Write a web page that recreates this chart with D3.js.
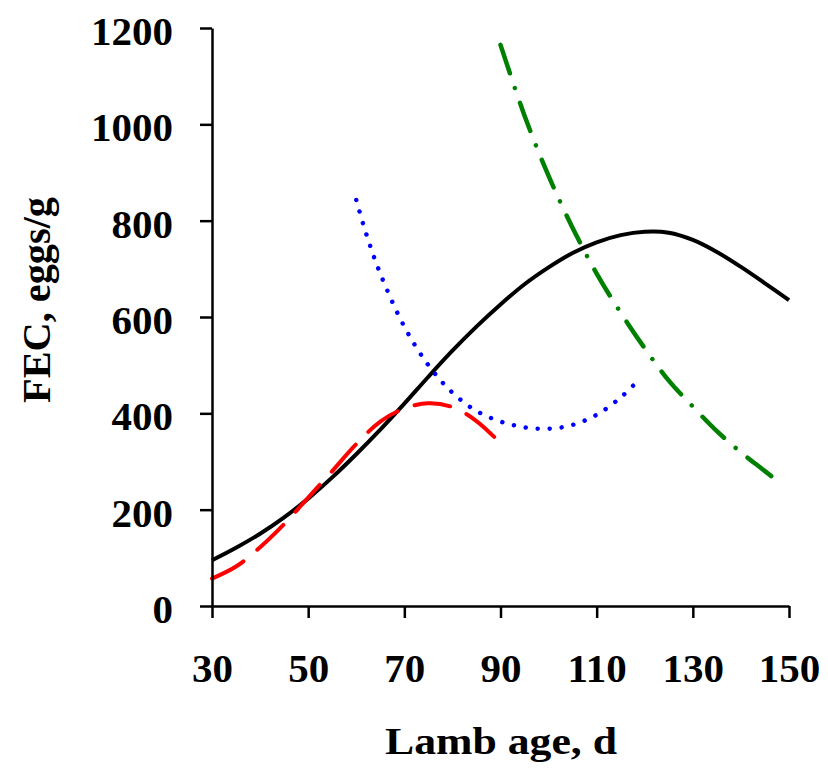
<!DOCTYPE html>
<html>
<head>
<meta charset="utf-8">
<script src="https://cdn.jsdelivr.net/npm/d3@7"></script>
<style>
  html, body { margin: 0; padding: 0; background: #fff; }
  svg { display: block; }
  text { font-family: "Liberation Serif", "Times New Roman", serif; font-weight: bold; fill: #000; }
</style>
</head>
<body>
<svg id="chart" width="828" height="770"></svg>
<script>
// ---- data ----
const xTicks = [30, 50, 70, 90, 110, 130, 150];
const yTicks = [0, 200, 400, 600, 800, 1000, 1200];

const blackAge = [30, 35, 40, 45, 50, 55, 60, 65, 70, 75, 80, 85, 90, 95, 100, 105, 110, 115, 120, 125, 130, 135, 140, 145, 150];
const blackFEC = [95, 121, 150, 184, 223, 267, 315, 366, 420, 476, 530, 580, 626, 668, 703, 733, 755, 770, 777, 775, 760, 735, 704, 670, 635];

const redAge = [30, 35, 40, 45, 50, 55, 60, 65, 70, 75, 80, 85, 90];
const redFEC = [57, 82, 122, 170, 225, 280, 336, 383, 410, 421, 413, 384, 338];

const blueAge = [60, 62, 65, 70, 75, 80, 85, 90, 95, 100, 105, 110, 115, 119];
const blueFEC = [843, 775, 690, 580, 500, 443, 405, 383, 371, 368, 376, 397, 433, 472];

const greenAge = [90, 95, 100, 105, 110, 115, 120, 125, 130, 135, 140, 145, 148];
const greenFEC = [1165, 1018, 893, 785, 690, 609, 535, 468, 414, 363, 319, 280, 256];

// ---- chart ----
const svg = d3.select("#chart");
const x = d3.scaleLinear().domain([30, 150]).range([212, 789]);
const y = d3.scaleLinear().domain([0, 1200]).range([606, 28]);

const line = d3.line().x(d => x(d[0])).y(d => y(d[1])).curve(d3.curveCatmullRom.alpha(0.5));
const zip = (a, b) => a.map((v, i) => [v, b[i]]);

// series
svg.append("path").datum(zip(blackAge, blackFEC)).attr("d", line)
  .attr("fill", "none").attr("stroke", "#000").attr("stroke-width", 4);
svg.append("path").datum(zip(redAge, redFEC)).attr("d", line)
  .attr("fill", "none").attr("stroke", "#ff0000").attr("stroke-width", 4)
  .attr("stroke-linecap", "round").attr("stroke-dasharray", "36,18");
svg.append("path").datum(zip(blueAge, blueFEC)).attr("d", line)
  .attr("fill", "none").attr("stroke", "#0000ff").attr("stroke-width", 4.5)
  .attr("stroke-linecap", "round").attr("stroke-dasharray", "0.01,12");
svg.append("path").datum(zip(greenAge, greenFEC)).attr("d", line)
  .attr("fill", "none").attr("stroke", "#008000").attr("stroke-width", 4.5)
  .attr("stroke-linecap", "round").attr("stroke-dasharray", "30,15.5,0.01,15.5");

// axes
const fmt = d3.format("d");
const xAxis = d3.axisBottom(x).tickValues(xTicks).tickFormat(fmt).tickSize(12).tickSizeOuter(0).tickPadding(35);
const yAxis = d3.axisLeft(y).tickValues(yTicks).tickFormat(fmt).tickSize(12).tickSizeOuter(0).tickPadding(27);

const gx = svg.append("g").attr("transform", "translate(0,606)").call(xAxis);
const gy = svg.append("g").attr("transform", "translate(212,0)").call(yAxis);

[gx, gy].forEach(g => {
  g.select(".domain").attr("stroke", "#000").attr("stroke-width", 2.5);
  g.selectAll(".tick line").attr("stroke", "#000").attr("stroke-width", 2.5);
  g.selectAll(".tick text").attr("font-family", "'Liberation Serif', 'Times New Roman', serif")
    .attr("font-weight", "bold").attr("font-size", 41).attr("fill", "#000");
});
gy.selectAll(".tick text").attr("dy", "0.4em");

// titles
svg.append("text").attr("x", 501).attr("y", 754).attr("text-anchor", "middle")
  .attr("font-size", 38).attr("textLength", 232).attr("lengthAdjust", "spacingAndGlyphs")
  .text("Lamb age, d");
svg.append("text").attr("transform", "translate(50,300) rotate(-90)").attr("text-anchor", "middle")
  .attr("font-size", 40).attr("textLength", 206).attr("lengthAdjust", "spacingAndGlyphs")
  .text("FEC, eggs/g");
</script>
</body>
</html>
